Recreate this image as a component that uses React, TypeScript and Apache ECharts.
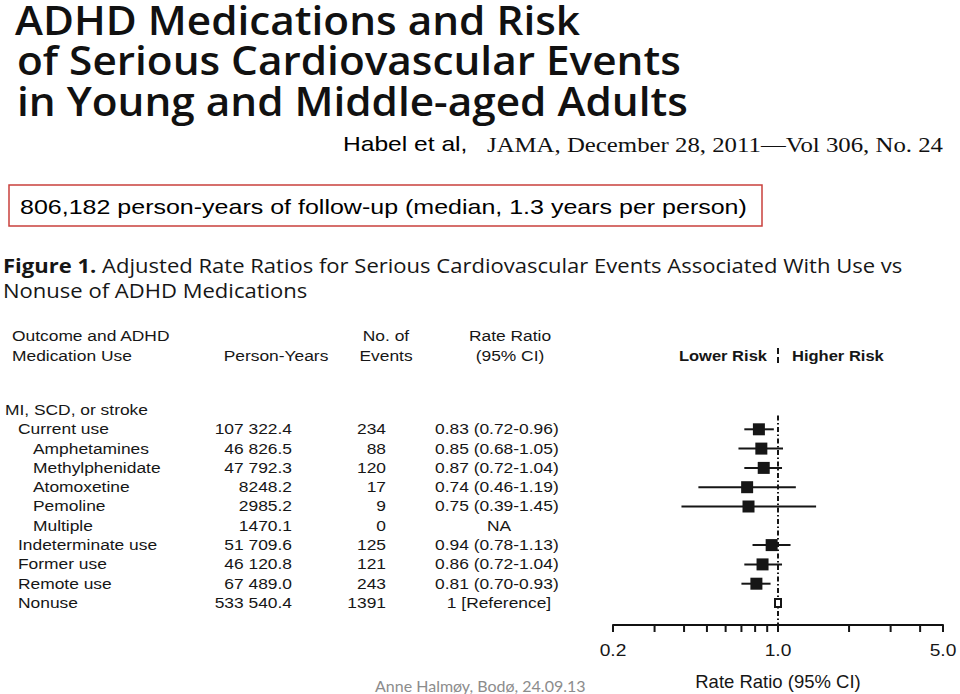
import React, { useEffect, useRef } from "react";
import * as echarts from "echarts";

// ---------- data ----------
const titleLines = [
  "ADHD Medications and Risk",
  "of Serious Cardiovascular Events",
  "in Young and Middle-aged Adults",
];
const citationAuthor = "Habel et al,";
const citationJournal = "JAMA, December 28, 2011\u2014Vol 306, No. 24";
const followUpNote = "806,182 person-years of follow-up (median, 1.3 years per person)";
const figureTitleBold = "Figure 1.";
const figureTitleLine1 = "Adjusted Rate Ratios for Serious Cardiovascular Events Associated With Use vs";
const figureTitleLine2 = "Nonuse of ADHD Medications";
const footerText = "Anne Halm\u00f8y, Bod\u00f8, 24.09.13";

const rowLabels = [
  "MI, SCD, or stroke",
  "Current use",
  "Amphetamines",
  "Methylphenidate",
  "Atomoxetine",
  "Pemoline",
  "Multiple",
  "Indeterminate use",
  "Former use",
  "Remote use",
  "Nonuse",
];
const rowIndent = [0, 1, 2, 2, 2, 2, 2, 1, 1, 1, 1];
const personYears = ["", "107 322.4", "46 826.5", "47 792.3", "8248.2", "2985.2", "1470.1", "51 709.6", "46 120.8", "67 489.0", "533 540.4"];
const eventCounts = ["", "234", "88", "120", "17", "9", "0", "125", "121", "243", "1391"];
const rateRatio = [null, 0.83, 0.85, 0.87, 0.74, 0.75, null, 0.94, 0.86, 0.81, 1];
const ciLow = [null, 0.72, 0.68, 0.72, 0.46, 0.39, null, 0.78, 0.72, 0.7, null];
const ciHigh = [null, 0.96, 1.05, 1.04, 1.19, 1.45, null, 1.13, 1.04, 0.93, null];
const rateText = [
  "",
  "0.83 (0.72-0.96)",
  "0.85 (0.68-1.05)",
  "0.87 (0.72-1.04)",
  "0.74 (0.46-1.19)",
  "0.75 (0.39-1.45)",
  "NA",
  "0.94 (0.78-1.13)",
  "0.86 (0.72-1.04)",
  "0.81 (0.70-0.93)",
  "1 [Reference]",
];
const headerLine1 = ["Outcome and ADHD", "", "No. of", "Rate Ratio"];
const headerLine2 = ["Medication Use", "Person-Years", "Events", "(95% CI)"];
const lowerRiskLabel = "Lower Risk";
const higherRiskLabel = "Higher Risk";
const referenceValue = 1;
const tickValues = [0.2, 0.3, 0.4, 0.5, 0.6, 0.7, 0.8, 0.9, 1, 2, 3, 4, 5];
const tickLabelValues = [0.2, 1, 5];
const tickLabels = ["0.2", "1.0", "5.0"];
const axisTitle = "Rate Ratio (95% CI)";

// ---------- layout ----------
const W = 960;
const H = 694;
const SANS = "Liberation Sans, Arial, sans-serif";
const SERIF = "Liberation Serif, Times New Roman, serif";
const HUMANIST = "Open Sans, sans-serif";
const SX = 1.2; // horizontal stretch of the scanned figure text
const Y_MIN = -4.5;
const Y_MAX = 11.14;
const HEADER_ROW1 = -3.83;
const HEADER_ROW2 = -2.8;
const INDENT_X = [5, 18, 33];
const PY_RIGHT = 292;
const EV_RIGHT = 386;
const RR_LEFT = 435;
const RR_CENTER = 499;
const HEADER_X = [12, 276, 386, 510];
const TABLE_FS = 14.5;

function txt(text: string, x: number, y: number, align: string, extra: any = {}, sx = SX) {
  return {
    type: "text",
    x,
    y,
    scaleX: sx,
    style: {
      text,
      x: 0,
      y: 0,
      align,
      verticalAlign: "middle",
      fontSize: TABLE_FS,
      fontFamily: SANS,
      fill: "#161616",
      ...extra,
    },
  };
}

export default function App() {
  const ref = useRef<HTMLDivElement>(null);

  useEffect(() => {
    if (!ref.current) return;
    const chart = echarts.init(ref.current, null, { renderer: "svg" });

    const forestData = rateRatio
      .map((v, i) => (v == null ? null : [v, i, ciLow[i] ?? "-", ciHigh[i] ?? "-"]))
      .filter((d) => d != null);

    const option: any = {
      animation: false,
      backgroundColor: "#ffffff",
      grid: { left: 613, right: W - 943, top: 410 + Y_MIN * 19.3, bottom: H - 625 },
      xAxis: {
        type: "log",
        logBase: 10,
        min: 0.2,
        max: 5,
        position: "bottom",
        axisLine: { show: true, onZero: false, lineStyle: { color: "#111", width: 2 } },
        axisTick: { show: false },
        axisLabel: { show: false },
        splitLine: { show: false },
        name: axisTitle,
        nameLocation: "middle",
        nameGap: 47,
        nameTextStyle: { fontSize: 18.5, fontFamily: SANS, color: "#161616" },
      },
      yAxis: {
        type: "value",
        inverse: true,
        min: Y_MIN,
        max: Y_MAX,
        show: false,
        splitLine: { show: false },
      },
      graphic: [
        ...titleLines.map((line, i) => ({
          type: "text",
          x: i === 0 ? 15 : 17,
          y: [20, 60, 101][i],
          scaleX: 1.085,
          style: {
            text: line,
            x: 0,
            y: 0,
            verticalAlign: "middle",
            fontSize: 39,
            lineHeight: 34,
            fontWeight: 600,
            fontFamily: HUMANIST,
            fill: "#111",
          },
        })),
        {
          type: "text",
          x: 343,
          y: 144,
          scaleX: SX,
          style: { text: citationAuthor, x: 0, y: 0, verticalAlign: "middle", fontSize: 20.5, fontFamily: SANS, fill: "#000" },
        },
        {
          type: "text",
          x: 487,
          y: 145,
          scaleX: 1.21,
          style: { text: citationJournal, x: 0, y: 0, verticalAlign: "middle", fontSize: 20.5, fontFamily: SERIF, fill: "#111" },
        },
        {
          type: "rect",
          shape: { x: 9, y: 185, width: 753, height: 41 },
          style: { fill: "none", stroke: "#c9403d", lineWidth: 1.5 },
        },
        {
          type: "text",
          x: 20,
          y: 207,
          scaleX: 1.22,
          style: { text: followUpNote, x: 0, y: 0, verticalAlign: "middle", fontSize: 20.5, fontFamily: SANS, fill: "#000" },
        },
        {
          type: "text",
          x: 3,
          y: 266,
          scaleX: 1.13,
          style: {
            text: "{b|" + figureTitleBold + "} " + figureTitleLine1,
            x: 0,
            y: 0,
            verticalAlign: "middle",
            fontSize: 19.5,
            fontFamily: HUMANIST,
            fill: "#161616",
            rich: { b: { fontSize: 19.5, fontWeight: "bold", fontFamily: HUMANIST, fill: "#161616" } },
          },
        },
        {
          type: "text",
          x: 3,
          y: 291,
          scaleX: 1.13,
          style: {
            text: figureTitleLine2,
            x: 0,
            y: 0,
            verticalAlign: "middle",
            fontSize: 19.5,
            fontFamily: HUMANIST,
            fill: "#161616",
          },
        },
        {
          type: "text",
          x: 375,
          y: 685,
          style: { text: footerText, x: 0, y: 0, verticalAlign: "middle", fontSize: 16, fontFamily: "Lato, sans-serif", fill: "#8c8c8c" },
        },
      ],
      series: [
        // table rows
        {
          type: "custom",
          clip: false,
          data: rowLabels.map((_, i) => [1, i]),
          encode: { x: 0, y: 1 },
          renderItem: (params: any, api: any) => {
            const i = api.value(1);
            const y = api.coord([1, i])[1];
            const children: any[] = [];
            children.push(txt(rowLabels[i], INDENT_X[rowIndent[i]], y, "left"));
            if (personYears[i]) children.push(txt(personYears[i], PY_RIGHT, y, "right"));
            if (eventCounts[i]) children.push(txt(eventCounts[i], EV_RIGHT, y, "right"));
            const rt = rateText[i];
            if (rt) {
              if (rt.indexOf("(") >= 0) children.push(txt(rt, RR_LEFT, y, "left"));
              else children.push(txt(rt, RR_CENTER, y, "center"));
            }
            return { type: "group", children };
          },
        },
        // headers, risk labels, reference line
        {
          type: "custom",
          clip: false,
          data: [[referenceValue, 0]],
          encode: { x: 0, y: 1 },
          renderItem: (params: any, api: any) => {
            const y1 = api.coord([referenceValue, HEADER_ROW1])[1];
            const y2 = api.coord([referenceValue, HEADER_ROW2])[1];
            const children: any[] = [];
            headerLine1.forEach((t, k) => {
              if (t) children.push(txt(t, HEADER_X[k], y1, k === 0 ? "left" : "center"));
            });
            headerLine2.forEach((t, k) => {
              if (t) children.push(txt(t, HEADER_X[k], y2, k === 0 ? "left" : "center"));
            });
            const ref1 = api.coord([referenceValue, 0.28]);
            const refEnd = api.coord([referenceValue, Y_MAX]);
            children.push(
              txt(lowerRiskLabel, ref1[0] - 11, y2, "right", { fontWeight: "bold" }, 1.14),
              txt(higherRiskLabel, ref1[0] + 14, y2, "left", { fontWeight: "bold" }, 1.14),
              {
                type: "line",
                shape: { x1: ref1[0], y1: y2 - 8, x2: ref1[0], y2: y2 + 8 },
                style: { stroke: "#161616", lineWidth: 2, lineDash: [6, 3] },
              },
              {
                type: "line",
                shape: { x1: ref1[0], y1: ref1[1], x2: refEnd[0], y2: refEnd[1] },
                style: { stroke: "#161616", lineWidth: 2, lineDash: [5, 2.5, 1.5, 2.5] },
              }
            );
            return { type: "group", children };
          },
        },
        // forest marks
        {
          type: "custom",
          clip: false,
          data: forestData,
          encode: { x: 0, y: 1 },
          renderItem: (params: any, api: any) => {
            const rr = api.value(0);
            const i = api.value(1);
            const lo = api.value(2);
            const hi = api.value(3);
            const c = api.coord([rr, i]);
            const children: any[] = [];
            if (!isNaN(lo) && !isNaN(hi)) {
              const a = api.coord([lo, i]);
              const b = api.coord([hi, i]);
              children.push({
                type: "line",
                shape: { x1: a[0], y1: a[1], x2: b[0], y2: b[1] },
                style: { stroke: "#161616", lineWidth: 2 },
              });
              children.push({
                type: "rect",
                shape: { x: c[0] - 6, y: c[1] - 6, width: 12, height: 12 },
                style: { fill: "#161616" },
              });
            } else {
              children.push({
                type: "rect",
                shape: { x: c[0] - 3, y: c[1] - 4, width: 6, height: 8 },
                style: { fill: "#ffffff", stroke: "#161616", lineWidth: 2 },
              });
            }
            return { type: "group", children };
          },
        },
        // axis ticks and labels
        {
          type: "custom",
          clip: false,
          data: tickValues.map((v) => [v, Y_MAX]),
          encode: { x: 0, y: 1 },
          renderItem: (params: any, api: any) => {
            const v = api.value(0);
            const p = api.coord([v, Y_MAX]);
            const children: any[] = [
              {
                type: "line",
                shape: { x1: p[0], y1: p[1], x2: p[0], y2: p[1] + 7 },
                style: { stroke: "#161616", lineWidth: 2 },
              },
            ];
            const li = tickLabelValues.indexOf(v);
            if (li >= 0) children.push(txt(tickLabels[li], p[0], p[1] + 26, "center", { fontSize: 16 }));
            return { type: "group", children };
          },
        },
      ],
    };

    chart.setOption(option);
    return () => chart.dispose();
  }, []);

  return (
    <div
      ref={ref}
      style={{ position: "fixed", left: 0, top: 0, width: W, height: H, background: "#fff" }}
    />
  );
}
